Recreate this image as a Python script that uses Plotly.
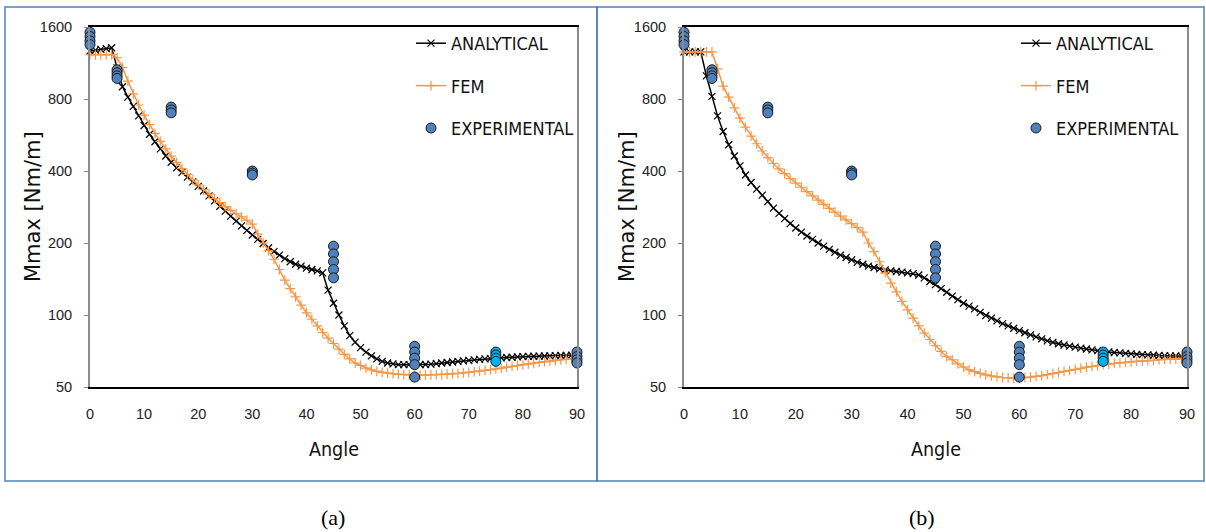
import plotly.graph_objects as go

ANGLES = list(range(0, 91))

ANALYTICAL_A = [
    1270, 1280, 1290, 1300, 1310, 1080, 900, 815, 745, 680,
    620, 570, 530, 495, 462, 435, 412, 395, 377, 360,
    345, 330, 315, 300, 285, 272, 259, 247, 236, 226,
    216, 207, 199, 191, 184, 178, 172, 167, 163, 160,
    157, 155, 153, 150, 127, 112, 100, 90, 82, 77,
    73, 70, 67.5, 65.5, 64, 63, 62.5, 62, 62, 62,
    62, 62, 62.1, 62.3, 62.6, 63, 63.3, 63.6, 64, 64.3,
    64.6, 64.9, 65.2, 65.5, 65.7, 66, 66.2, 66.4, 66.6, 66.8,
    67, 67.1, 67.2, 67.3, 67.4, 67.5, 67.6, 67.7, 67.8, 67.9, 68,
]
FEM_A = [
    1225, 1225, 1225, 1225, 1228, 1190, 1085, 950, 840, 755,
    685, 625, 575, 532, 495, 462, 434, 409, 387, 367,
    350, 334, 320, 307, 295, 284, 274, 265, 257, 249,
    240, 218, 200, 186, 171, 155, 140, 129, 119, 110,
    102, 96, 90, 84.5, 80, 76, 72, 68.5, 65.5, 63,
    61.5, 60, 59, 58.2, 57.6, 57.1, 56.8, 56.5, 56.3, 56.2,
    56.1, 56.1, 56.1, 56.2, 56.3, 56.4, 56.6, 56.8, 57, 57.3,
    57.6, 57.9, 58.3, 58.7, 59.1, 59.5, 60, 60.5, 61, 61.5,
    62, 62.5, 63, 63.4, 63.8, 64.2, 64.6, 65, 65.3, 65.6, 65.9,
]
ANALYTICAL_B = [
    1260, 1260, 1260, 1260, 1000, 820, 680, 585, 515, 462,
    420, 385, 358, 336, 317, 298, 280, 266, 253, 241,
    231, 222, 214, 207, 200, 194, 188, 183, 178, 174,
    170, 166, 163, 160, 158, 156, 154.5, 153, 152, 151,
    150, 149, 147, 143, 138, 134, 129, 124.5, 120, 116,
    112, 109, 106, 102.5, 99.5, 97, 94.5, 92, 90, 88,
    86, 84.3, 82.6, 81, 79.5, 78, 76.8, 75.8, 74.9, 74.1,
    73.4, 72.7, 72.1, 71.5, 71, 70.5, 70.1, 69.7, 69.4, 69.1,
    68.8, 68.5, 68.3, 68.1, 67.9, 67.7, 67.6, 67.5, 67.4, 67.3, 67.2,
]
FEM_B = [
    1260, 1260, 1260, 1260, 1260, 1260, 1070, 905, 815, 735,
    665, 610, 560, 520, 485, 455, 430, 408, 390, 372,
    356, 342, 328, 315, 302, 290, 279, 269, 259, 250,
    241, 232, 222, 200, 184, 167, 150, 136, 125, 114,
    105, 97, 90, 84, 79, 74.5, 70.5, 67, 65, 62.5,
    60.5, 59, 58, 57, 56.2, 55.6, 55.1, 54.8, 54.6, 54.5,
    54.5, 54.7, 55, 55.4, 55.8, 56.3, 56.9, 57.5, 58.1, 58.7,
    59.3, 59.9, 60.5, 61, 61.5, 62, 62.4, 62.8, 63.1, 63.4,
    63.7, 64, 64.2, 64.5, 64.7, 65, 65.2, 65.4, 65.6, 65.8, 66,
]
EXP_ANGLES = [0, 0, 0, 0, 5, 5, 5, 5, 15, 15, 15, 30, 30, 30,
              45, 45, 45, 45, 45, 60, 60, 60, 60, 60, 90, 90, 90, 90]
EXP_VALUES = [1520, 1460, 1400, 1350, 1060, 1030, 1000, 975, 740, 720, 700,
              400, 392, 385, 194, 180, 167, 155, 143, 74, 70, 66, 62, 55,
              70, 67, 65, 63]
EXP75_ANGLES = [75, 75, 75, 75]
EXP75_VALUES = [70, 68, 66, 64]

X_TICKS = [0, 10, 20, 30, 40, 50, 60, 70, 80, 90]
Y_TICKS = [50, 100, 200, 400, 800, 1600]
PANELS = ["(a)", "(b)"]
SERIES_NAMES = ["ANALYTICAL", "FEM", "EXPERIMENTAL"]

W, H = 1206, 532
BLACK = "#000000"
ORANGE = "#F79646"
BLUE = "#4F81BD"
CYAN = "#00B0F0"
FRAME = "#4F81BD"
COND = "DejaVu Sans Condensed, DejaVu Sans, sans-serif"
TICKF = "Liberation Sans, Arial, sans-serif"
WIDE = "DejaVu Sans, Verdana, sans-serif"


def px(v):
    return v / W


def py(v):
    return 1 - v / H


fig = go.Figure()

panels = [
    dict(xa="x", ya="y", leg="legend", ana=ANALYTICAL_A, fem=FEM_A),
    dict(xa="x2", ya="y2", leg="legend2", ana=ANALYTICAL_B, fem=FEM_B),
]

for i, p in enumerate(panels):
    fig.add_trace(go.Scatter(
        x=ANGLES, y=p["ana"], mode="lines+markers", name=SERIES_NAMES[0],
        xaxis=p["xa"], yaxis=p["ya"], legend=p["leg"], legendgroup="a%d" % i,
        line=dict(color=BLACK, width=1.5),
        marker=dict(symbol="x-thin", size=7, line=dict(color=BLACK, width=1.2)),
        cliponaxis=False,
    ))
    fig.add_trace(go.Scatter(
        x=ANGLES, y=p["fem"], mode="lines+markers", name=SERIES_NAMES[1],
        xaxis=p["xa"], yaxis=p["ya"], legend=p["leg"], legendgroup="f%d" % i,
        line=dict(color=ORANGE, width=1.5),
        marker=dict(symbol="cross-thin", size=7, line=dict(color=ORANGE, width=1.2)),
        cliponaxis=False,
    ))
    fig.add_trace(go.Scatter(
        x=EXP_ANGLES, y=EXP_VALUES, mode="markers", name=SERIES_NAMES[2],
        xaxis=p["xa"], yaxis=p["ya"], legend=p["leg"], legendgroup="e%d" % i,
        marker=dict(symbol="circle", size=10, color=BLUE,
                    line=dict(color="#1a1a1a", width=1)),
        cliponaxis=False,
    ))
    fig.add_trace(go.Scatter(
        x=EXP75_ANGLES, y=EXP75_VALUES, mode="markers", showlegend=False,
        xaxis=p["xa"], yaxis=p["ya"], legend=p["leg"],
        marker=dict(symbol="circle", size=10, color=CYAN,
                    line=dict(color="#1a1a1a", width=1)),
        cliponaxis=False,
    ))

ydom = [py(387), py(27)]
xdoms = [[px(90), px(577)], [px(684), px(1187)]]

common_x = dict(
    range=[0, 90], tickvals=X_TICKS, ticks="", showgrid=False, zeroline=False,
    showline=True, linecolor="#000000", linewidth=1.5, mirror=True, automargin=False,
    tickfont=dict(family=TICKF, size=14.5, color="#222222"), ticklabelstandoff=13,
)
common_y = dict(
    type="log", range=[1.69897, 3.20412], tickvals=Y_TICKS,
    ticktext=[str(v) for v in Y_TICKS], ticks="outside", ticklen=4,
    tickcolor="#888888", showgrid=False, zeroline=False, automargin=False,
    showline=True, linecolor="#8c8c8c", linewidth=2, mirror=True,
    tickfont=dict(family=TICKF, size=14.5, color="#222222"), ticklabelstandoff=9,
)

legend_style = dict(
    xanchor="left", yanchor="top", bgcolor="rgba(0,0,0,0)",
    font=dict(family=COND, size=18, color="#111111"),
    tracegroupgap=16, itemwidth=30,
)

fig.update_layout(
    width=W, height=H, margin=dict(l=0, r=0, t=0, b=0, autoexpand=False),
    template="none",
    paper_bgcolor="white", plot_bgcolor="white", showlegend=True,
    xaxis=dict(domain=xdoms[0], anchor="y", **common_x),
    yaxis=dict(domain=ydom, anchor="x", **common_y),
    xaxis2=dict(domain=xdoms[1], anchor="y2", **common_x),
    yaxis2=dict(domain=ydom, anchor="x2", **common_y),
    legend=dict(x=px(411), y=py(25), **legend_style),
    legend2=dict(x=px(1016), y=py(25), **legend_style),
)

annotations = []
for (x0, x1) in [(90, 577), (684, 1187)]:
    annotations.append(dict(x=px((x0 + x1) / 2), y=py(449), xref="paper", yref="paper",
                            xanchor="center", yanchor="middle",
                            text="Angle", showarrow=False,
                            font=dict(family=COND, size=19.5, color="#111111")))
for xc in [33, 627]:
    annotations.append(dict(x=px(xc), y=py(207), xref="paper", yref="paper",
                            xanchor="center", yanchor="middle",
                            text="Mmax [Nm/m]", showarrow=False, textangle=-90,
                            font=dict(family=WIDE, size=21, color="#111111")))
for label, xc in zip(PANELS, [333, 922]):
    annotations.append(dict(x=px(xc), y=py(517), xref="paper", yref="paper",
                            xanchor="center", yanchor="middle",
                            text=label, showarrow=False,
                            font=dict(family="Liberation Serif, Times New Roman, serif",
                                      size=22, color="#000000")))
fig.update_layout(annotations=annotations)

shapes = [
    dict(type="rect", xref="paper", yref="paper", x0=px(5), x1=px(597),
         y0=py(481), y1=py(7), line=dict(color=FRAME, width=1.5)),
    dict(type="rect", xref="paper", yref="paper", x0=px(597), x1=px(1204),
         y0=py(481), y1=py(7), line=dict(color=FRAME, width=1.5)),
]
fig.update_layout(shapes=shapes)

fig.write_html(
    "out.html",
    config={"displayModeBar": False},
    post_script="document.body.style.margin='0px';document.body.style.overflow='hidden';",
)
